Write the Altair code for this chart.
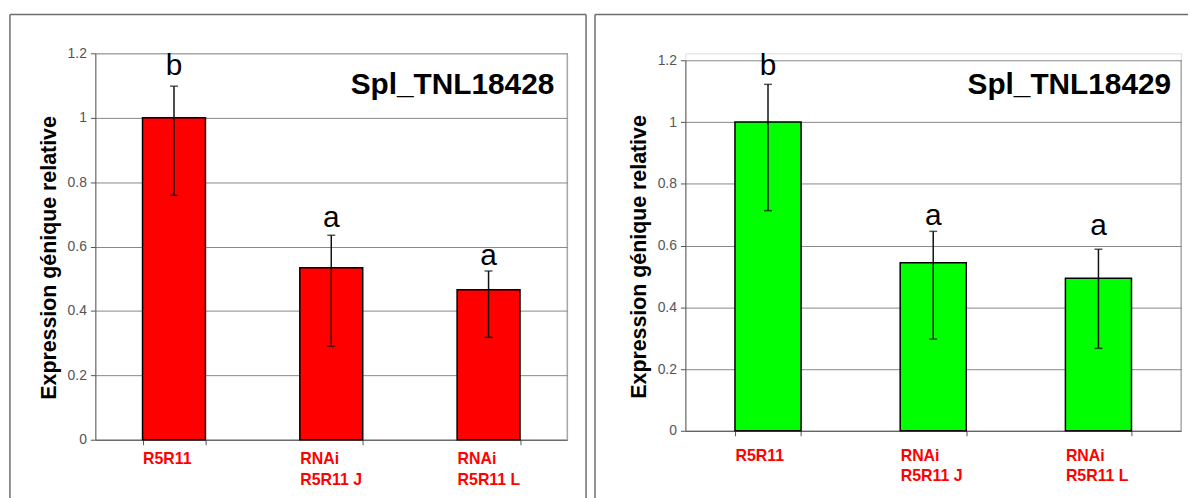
import altair as alt
import pandas as pd

FONT = "Liberation Sans"

categories = ["R5R11", "RNAi|R5R11 J", "RNAi|R5R11 L"]
y_ticks = [0, 0.2, 0.4, 0.6, 0.8, 1.0, 1.2]

left_name = "Spl_TNL18428"
left_values = [1.0, 0.534, 0.466]
left_err_low = [0.759, 0.290, 0.318]
left_err_high = [1.098, 0.635, 0.524]
left_letters = ["b", "a", "a"]
left_letter_y = [1.132, 0.660, 0.543]

right_name = "Spl_TNL18429"
right_values = [1.0, 0.544, 0.494]
right_err_low = [0.713, 0.297, 0.267]
right_err_high = [1.122, 0.646, 0.588]
right_letters = ["b", "a", "a"]
right_letter_y = [1.152, 0.666, 0.634]

Y_TITLE = "Expression génique relative"
FRAME = "#6e6e6e"


def panel(name, values, lo, hi, letters, letter_y, color, W, H, top,
          label_pad, line_h, title_dx, title_y, frame, right_side):
    df = pd.DataFrame({"cat": categories, "value": values, "lo": lo, "hi": hi,
                       "letter": letters, "ly": letter_y})
    step = W / 3.0
    xscale = alt.Scale(paddingInner=0.6, paddingOuter=0.3)
    x_axis = alt.Axis(title=None, labelAngle=0, labelAlign="left", labelBaseline="top",
                      labelOffset=-0.2 * step, labelPadding=label_pad, labelColor="#FF0000",
                      labelFont=FONT, labelFontSize=16, labelFontWeight="bold",
                      labelLineHeight=line_h, labelExpr="split(datum.label, '|')",
                      tickBand="extent", tickSize=5, tickColor="#555555",
                      domainColor="#555555", grid=False)
    x = alt.X("cat:N", sort=categories, scale=xscale, axis=x_axis)
    yscale = alt.Scale(domain=[0, 1.2], nice=False, zero=True, range=[H, top])
    y_axis = alt.Axis(title=Y_TITLE, values=y_ticks, format="~g", labelFont=FONT,
                      labelFontSize=14, labelColor="#555555", labelPadding=4,
                      tickSize=5, tickColor="#555555", domainColor="#555555",
                      gridColor="#888888", grid=True, titleFont=FONT, titleFontSize=21.5,
                      titleFontWeight="bold", titleColor="black", titlePadding=7,
                      titleY=(H + top) / 2 + 11)

    def Y(field):
        return alt.Y(field, scale=yscale, axis=y_axis, title=Y_TITLE)

    base = alt.Chart(df)
    one = alt.Data(values=[{"k": 1}])
    fx1, fx2, fy1, fy2 = frame
    frame_top = alt.Chart(one).mark_rule(color=FRAME, strokeWidth=1.5).encode(
        x=alt.value(fx1), x2=alt.value(W + fx2), y=alt.value(fy1))
    frame_left = alt.Chart(one).mark_rule(color=FRAME, strokeWidth=1.5).encode(
        x=alt.value(fx1), y=alt.value(fy1), y2=alt.value(H + fy2))
    layers = [frame_top, frame_left]
    if right_side:
        layers.append(alt.Chart(one).mark_rule(color=FRAME, strokeWidth=1.5).encode(
            x=alt.value(W + fx2), y=alt.value(fy1), y2=alt.value(H + fy2)))
    plot_right = alt.Chart(one).mark_rule(color="#888888", strokeWidth=1).encode(
        x=alt.value(W), y=alt.value(top), y2=alt.value(H))
    bars = base.mark_bar(color=color, stroke="black", strokeWidth=1.5).encode(x=x, y=Y("value:Q"))
    rules = base.mark_rule(color="#111111", strokeWidth=1.5).encode(
        x=x, y=Y("lo:Q"), y2="hi:Q")
    cap_hi = base.mark_tick(color="#111111", size=8, thickness=1.5, orient="horizontal").encode(
        x=x, y=Y("hi:Q"))
    cap_lo = base.mark_tick(color="#111111", size=8, thickness=1.5, orient="horizontal").encode(
        x=x, y=Y("lo:Q"))
    lets = base.mark_text(font=FONT, fontSize=30, baseline="alphabetic", color="black").encode(
        x=x, y=Y("ly:Q"), text="letter:N")
    title = alt.Chart(alt.Data(values=[{"t": name}])).mark_text(
        font=FONT, fontSize=30, fontWeight="bold", align="right", baseline="alphabetic",
        color="black").encode(x=alt.value(W + title_dx), y=alt.value(title_y), text="t:N")
    layers += [plot_right, bars, rules, cap_hi, cap_lo, lets, title]
    return alt.layer(*layers).properties(width=W, height=H)


# left plot area: x 94..569, y 50..439 ; right plot area: x 684..1183, y 57..430
left = panel(left_name, left_values, left_err_low, left_err_high, left_letters, left_letter_y,
             "#FF0000", 475, 389, 0, 6, 21, -13, 41, (-86, 19, -39, 59), True)
right = panel(right_name, right_values, right_err_low, right_err_high, right_letters, right_letter_y,
              "#00FF00", 499, 380, 7, 12, 20, -10, 41, (-91, 7, -39, 68), False)

chart = alt.hconcat(left, right, spacing=5).properties(
    padding={"left": 8, "top": 11, "right": 0, "bottom": 0}
).configure_view(stroke="transparent", strokeWidth=0).configure(background="white")

chart.save("out.html", embed_options={"renderer": "svg", "actions": False})
